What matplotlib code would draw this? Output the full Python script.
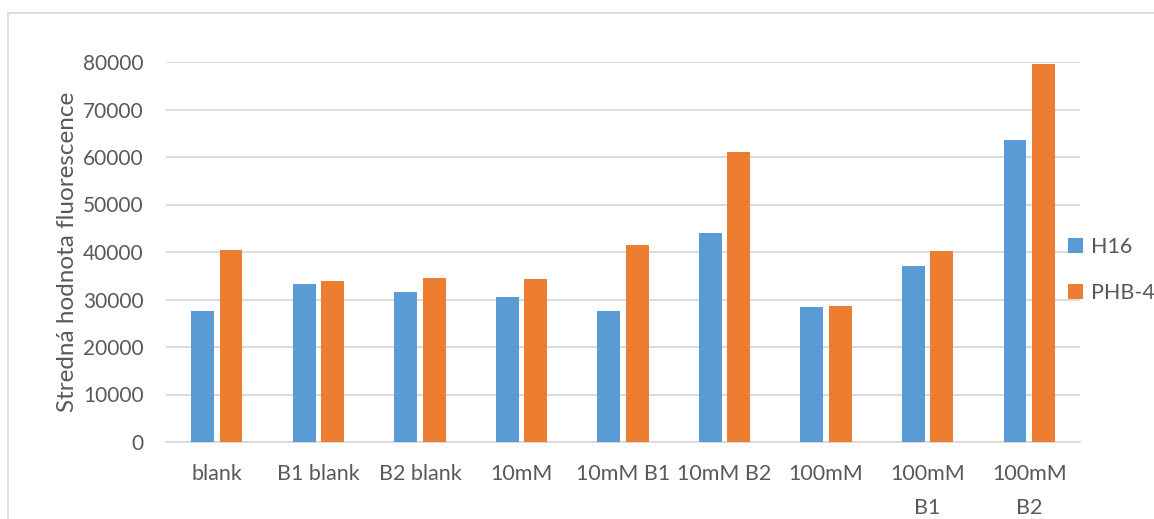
import matplotlib
matplotlib.use("Agg")
import matplotlib.pyplot as plt
import numpy as np
from matplotlib.patches import Rectangle

categories = ["blank", "B1 blank", "B2 blank", "10mM", "10mM B1", "10mM B2",
              "100mM", "100mM\nB1", "100mM\nB2"]
h16 = [27500, 33300, 31500, 30600, 27600, 43900, 28400, 37100, 63500]
phb4 = [40500, 34000, 34500, 34300, 41500, 61000, 28600, 40200, 79600]
yticks = [0, 10000, 20000, 30000, 40000, 50000, 60000, 70000, 80000]

plt.rcParams['font.family'] = ['Lato', 'DejaVu Sans']
txt = '#595959'
blue = '#5B9BD5'
orange = '#ED7D31'

fig = plt.figure(figsize=(11.54, 5.19), dpi=100)
fig.patches.append(Rectangle((8/1154, -0.1), 1.2, 1 - 13/519 + 0.1,
                             transform=fig.transFigure, fill=False,
                             edgecolor='#D9D9D9', linewidth=1.2))
ax = fig.add_axes([166/1154, 1 - 442/519, (1080-166)/1154, (442-62)/519])
x = np.arange(len(categories))
w = 0.225
ax.bar(x - 0.14, h16, w, color=blue, label='H16', zorder=3)
ax.bar(x + 0.14, phb4, w, color=orange, label='PHB-4', zorder=3)
ax.set_xlim(-0.5, len(categories) - 0.5)
ax.set_ylim(0, 80000)
ax.set_yticks(yticks)
ax.set_yticklabels([str(v) for v in yticks])
ax.yaxis.grid(True, color='#D9D9D9', linewidth=1.3, zorder=0)
for s in ['top', 'right', 'left']:
    ax.spines[s].set_visible(False)
ax.spines['bottom'].set_color('#D9D9D9')
ax.spines['bottom'].set_linewidth(1.3)
ax.tick_params(axis='both', length=0, labelcolor=txt)
ax.tick_params(axis='y', pad=16, labelsize=15)
ax.tick_params(axis='x', pad=16, labelsize=15.5)
ax.set_xticks(x)
ax.set_xticklabels(categories, linespacing=1.85, va='top')
ax.set_ylabel('Stredná hodnota fluorescence', fontsize=17.5, color=txt, labelpad=4)
ax.legend(loc='center left', bbox_to_anchor=(1057/1154, 1 - 270/519),
          bbox_transform=fig.transFigure, frameon=False, fontsize=15.5,
          labelcolor=txt, handlelength=0.7, handleheight=0.7,
          handletextpad=0.4, labelspacing=1.2, borderpad=0)
fig.savefig('out.png', dpi=100)
